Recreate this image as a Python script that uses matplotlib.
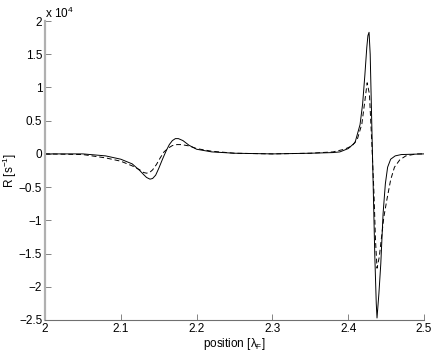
import matplotlib.pyplot as plt

plt.rcParams['font.family'] = ['Liberation Sans', 'DejaVu Sans']
plt.rcParams['mathtext.fontset'] = 'custom'
plt.rcParams['mathtext.rm'] = 'Liberation Sans'
plt.rcParams['mathtext.it'] = 'Liberation Sans'

# solid curve (values in units of 1e4 s^-1)
x_solid = [2.00, 2.05, 2.08, 2.10, 2.115, 2.125, 2.130, 2.134, 2.1385, 2.142,
           2.146, 2.150, 2.155, 2.160, 2.164, 2.168, 2.172, 2.176, 2.182, 2.19,
           2.20, 2.22, 2.25, 2.30, 2.35, 2.38, 2.389, 2.40, 2.409, 2.4156,
           2.419, 2.422, 2.4245, 2.426, 2.4275, 2.429, 2.431, 2.433, 2.435, 2.437,
           2.438, 2.4405, 2.443, 2.446, 2.449, 2.452, 2.456, 2.462, 2.47, 2.50]
r_solid = [0.0, 0.0, -0.03, -0.08, -0.15, -0.25, -0.31, -0.355, -0.38, -0.37,
           -0.32, -0.22, -0.08, 0.05, 0.14, 0.20, 0.23, 0.23, 0.20, 0.13,
           0.07, 0.03, 0.01, 0.0, 0.01, 0.02, 0.03, 0.08, 0.17, 0.44,
           0.75, 1.19, 1.6, 1.78, 1.83, 1.5, 0.5, -0.5, -1.5, -2.25,
           -2.47, -2.1, -1.65, -0.9, -0.45, -0.2, -0.08, -0.03, -0.01, 0.0]

# dashed curve
x_dash = [2.00, 2.05, 2.08, 2.10, 2.115, 2.125, 2.130, 2.134, 2.138, 2.142,
          2.147, 2.152, 2.157, 2.163, 2.168, 2.174, 2.18, 2.19, 2.20, 2.22,
          2.25, 2.30, 2.35, 2.38, 2.395, 2.405, 2.412, 2.418, 2.422, 2.425,
          2.428, 2.431, 2.434, 2.436, 2.438, 2.441, 2.444, 2.447, 2.451, 2.456,
          2.461, 2.468, 2.476, 2.49, 2.50]
r_dash = [0.0, -0.01, -0.06, -0.11, -0.18, -0.24, -0.28, -0.29, -0.28, -0.24,
          -0.16, -0.06, 0.03, 0.09, 0.125, 0.14, 0.14, 0.12, 0.08, 0.04,
          0.01, 0.0, 0.01, 0.03, 0.07, 0.12, 0.22, 0.45, 0.8, 1.07,
          0.9, 0.2, -0.6, -1.3, -1.72, -1.55, -1.25, -0.95, -0.69, -0.39,
          -0.2, -0.09, -0.03, 0.0, 0.0]

xticks = [2, 2.1, 2.2, 2.3, 2.4, 2.5]
xticklabels = ['2', '2.1', '2.2', '2.3', '2.4', '2.5']
yticks = [-2.5, -2, -1.5, -1, -0.5, 0, 0.5, 1, 1.5, 2]
yticklabels = ['\u22122.5', '\u22122', '\u22121.5', '\u22121', '\u22120.5',
               '0', '0.5', '1', '1.5', '2']

fig = plt.figure(figsize=(4.36, 3.55), dpi=100)
ax = fig.add_axes([0.1032, 0.0986, 0.8693, 0.8422])

ax.plot(x_solid, r_solid, color='black', lw=0.7)
ax.plot(x_dash, r_dash, color='black', lw=0.7, ls=(0, (5, 3)))

ax.set_xlim(2, 2.5)
ax.set_ylim(-2.5, 2)
ax.set_xticks(xticks)
ax.set_xticklabels(xticklabels)
ax.set_yticks(yticks)
ax.set_yticklabels(yticklabels)

for s in ['top', 'right']:
    ax.spines[s].set_visible(False)
ax.spines['left'].set_color('#b0b0b0')
ax.spines['left'].set_linewidth(1.6)
ax.spines['bottom'].set_color('#707070')
ax.spines['bottom'].set_linewidth(0.8)
ax.tick_params(direction='in', length=4, width=0.6, colors='#707070',
               labelcolor='black', labelsize=8.5, pad=2)

ax.text(0.0, 1.0, r'x 10$^4$', transform=ax.transAxes, fontsize=8.5,
        ha='left', va='bottom')
ax.set_xlabel(r'position [$\lambda_F$]', fontsize=8.5, labelpad=1)
ax.set_ylabel(r'R [s$^{-1}$]', fontsize=8.5)
ax.yaxis.set_label_coords(-0.068, 0.5)

fig.savefig('out.png', dpi=100)
